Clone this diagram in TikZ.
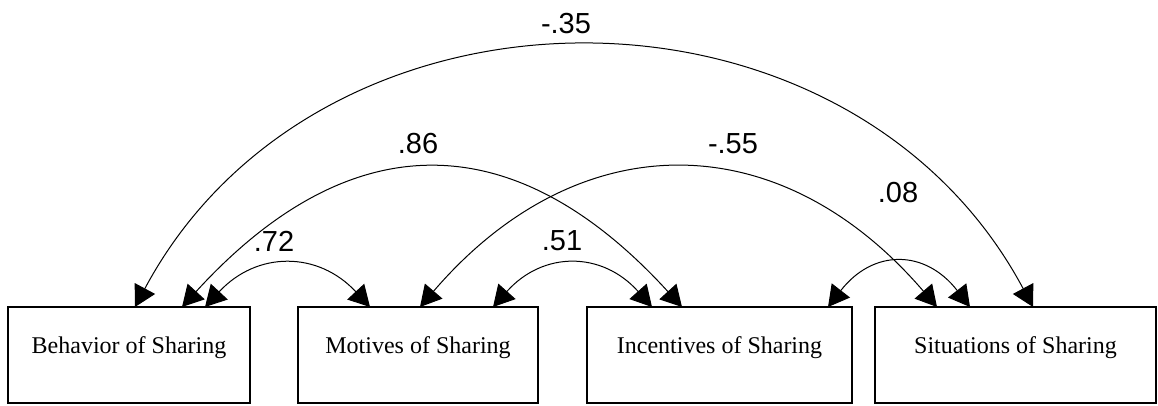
\documentclass[tikz,border=0pt]{standalone}
\usepackage{fontspec}
\setmainfont{Liberation Serif}
\newfontfamily\lblfont{Liberation Sans}
\usetikzlibrary{arrows.meta,calc}
\begin{document}
\begin{tikzpicture}[x=1pt,y=-1pt,
  box/.style={draw, line width=1.5pt, rectangle, inner sep=0pt, outer sep=0pt,
    text height=16pt, text depth=20pt, font=\fontsize{24}{28}\selectfont,
    minimum height=96pt},
  cov/.style={line width=1pt,
    {Triangle[length=21pt,width=23pt]}-{Triangle[length=21pt,width=23pt]}},
  lbl/.style={anchor=base, font=\lblfont\fontsize{29}{34}\selectfont, inner sep=0pt}]
\useasboundingbox (0,0) rectangle (1158,405);
\node[box, minimum width=242pt] (beh) at (129,355) {Behavior of Sharing};
\node[box, minimum width=240pt] (mot) at (418,355) {Motives of Sharing};
\node[box, minimum width=265pt] (inc) at (719.5,355) {Incentives of Sharing};
\node[box, minimum width=281pt] (sit) at (1015.5,355) {Situations of Sharing};
% covariance arcs
\draw[cov] ([xshift=127pt]beh.north west) .. controls +(185,-346) and +(-185,-346) .. ([xshift=158pt]sit.north west);
\draw[cov] ([xshift=174pt]beh.north west) .. controls +(168,-184) and +(-168,-184) .. ([xshift=95pt]inc.north west);
\draw[cov] ([xshift=197pt]beh.north west) .. controls +(52,-56) and +(-52,-56) .. ([xshift=72pt]mot.north west);
\draw[cov] ([xshift=195pt]mot.north west) .. controls +(50,-56) and +(-50,-56) .. ([xshift=65pt]inc.north west);
\draw[cov] ([xshift=122pt]mot.north west) .. controls +(158,-184) and +(-158,-184) .. ([xshift=62pt]sit.north west);
\draw[cov] ([xshift=241pt]inc.north west) .. controls +(45,-58) and +(-45,-58) .. ([xshift=95pt]sit.north west);
% labels
\node[lbl] (l35) at (566,33) {-.35};
\node[lbl] (l86) at (418,153) {.86};
\node[lbl] (l55) at (733,153) {-.55};
\node[lbl] (l08) at (898,202) {.08};
\node[lbl] (l72) at (274,251) {.72};
\node[lbl] (l51) at (562,250) {.51};
\end{tikzpicture}
\end{document}
